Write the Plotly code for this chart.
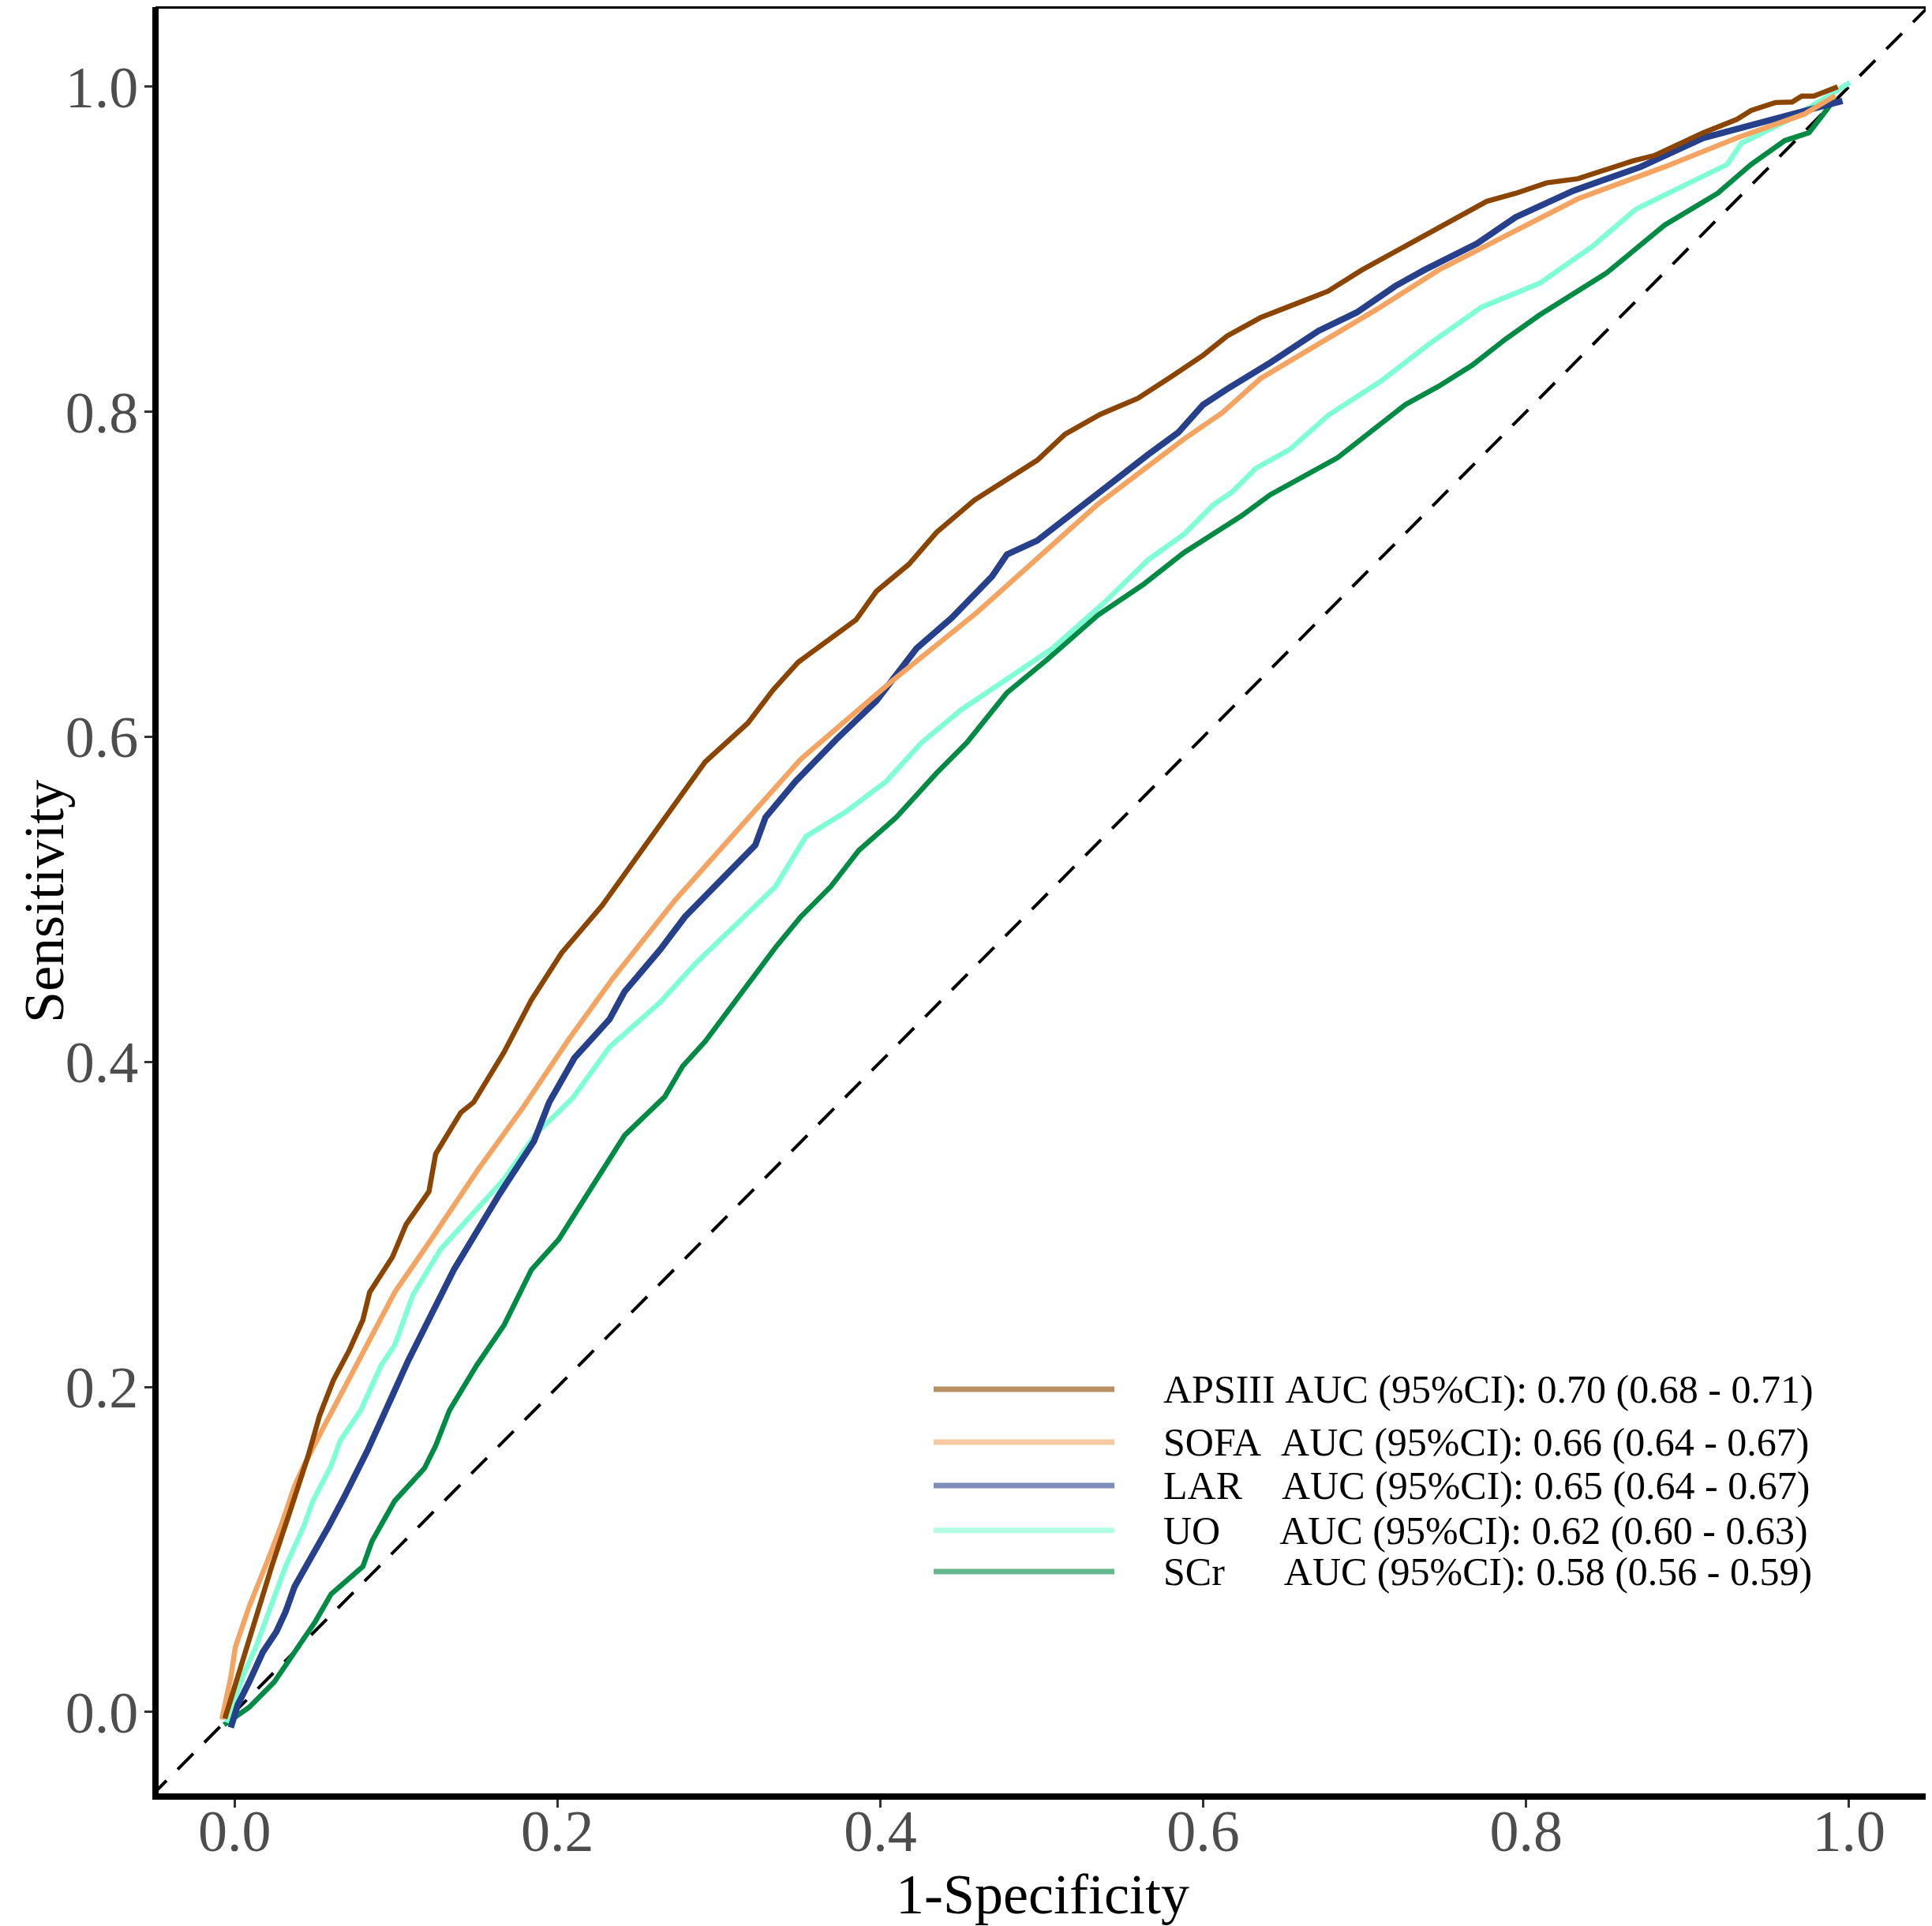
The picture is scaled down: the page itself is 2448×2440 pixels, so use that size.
import plotly.graph_objects as go

# ROC curves (x = 1-specificity, y = sensitivity)
APSIII_X = [-0.006, 0.0047, 0.0175, 0.023, 0.0344, 0.0456, 0.0527, 0.0612, 0.0711, 0.0795,
            0.0837, 0.0978, 0.1063, 0.1204, 0.1246, 0.1401, 0.1481, 0.1668, 0.1839, 0.2026,
            0.2276, 0.251, 0.2665, 0.2915, 0.318, 0.3336, 0.3491, 0.385, 0.3975, 0.4177,
            0.4349, 0.4583, 0.4972, 0.5144, 0.5362, 0.5595, 0.5798, 0.6001, 0.6148, 0.6356,
            0.6565, 0.6773, 0.6982, 0.716, 0.7369, 0.7577, 0.7756, 0.7935, 0.8128, 0.8322,
            0.8501, 0.8665, 0.8799, 0.8918, 0.9097, 0.9305, 0.9394, 0.9544, 0.9648, 0.9707,
            0.9782, 0.993]
APSIII_Y = [-0.004, 0.031, 0.071, 0.0896, 0.1236, 0.1577, 0.1825, 0.2041, 0.2227, 0.2413,
            0.2583, 0.28, 0.3001, 0.3202, 0.3435, 0.3688, 0.3752, 0.4058, 0.4382, 0.4671,
            0.4961, 0.5284, 0.5505, 0.5846, 0.6085, 0.6289, 0.6459, 0.6721, 0.6895, 0.7062,
            0.7259, 0.7457, 0.7702, 0.7862, 0.7984, 0.8083, 0.8213, 0.8349, 0.8466, 0.858,
            0.8661, 0.8742, 0.8872, 0.8969, 0.9077, 0.9197, 0.9295, 0.9344, 0.9409, 0.9434,
            0.949, 0.9545, 0.9578, 0.9636, 0.9717, 0.9799, 0.9854, 0.9903, 0.9906, 0.9942,
            0.9942, 1.0]

SOFA_X = [-0.0079, -0.0023, 0.0005, 0.009, 0.0203, 0.0287, 0.0372, 0.0429, 0.0541, 0.0711,
          0.088, 0.0992, 0.1218, 0.15, 0.1782, 0.2073, 0.2346, 0.2728, 0.3507, 0.4068,
          0.4598, 0.5346, 0.588, 0.6118, 0.6356, 0.6654, 0.7071, 0.7458, 0.7905, 0.8322,
          0.8858, 0.9305, 0.9722, 0.9915]
SOFA_Y = [-0.0045, 0.0215, 0.04, 0.0648, 0.0927, 0.1144, 0.1391, 0.1515, 0.1732, 0.2057,
          0.2382, 0.2583, 0.2908, 0.3326, 0.3713, 0.4143, 0.4518, 0.4995, 0.5863, 0.634,
          0.6765, 0.743, 0.7832, 0.7994, 0.8205, 0.8384, 0.8628, 0.8872, 0.91, 0.9311,
          0.9507, 0.9685, 0.9831, 0.9945]

LAR_X = [-0.0023, 0.002, 0.009, 0.0175, 0.0259, 0.0316, 0.0372, 0.0499, 0.0584, 0.0682,
         0.0823, 0.0964, 0.1077, 0.1218, 0.1359, 0.1528, 0.1641, 0.1855, 0.1949, 0.2105,
         0.2323, 0.2416, 0.2634, 0.279, 0.304, 0.3226, 0.3289, 0.3476, 0.3725, 0.3975,
         0.4224, 0.4442, 0.4692, 0.4785, 0.4972, 0.5284, 0.5471, 0.5658, 0.5845, 0.5999,
         0.6148, 0.6416, 0.6714, 0.6952, 0.719, 0.7369, 0.7696, 0.7935, 0.8292, 0.871,
         0.9097, 0.9513, 0.996]
LAR_Y = [-0.0095, 0.0045, 0.0184, 0.0369, 0.0494, 0.0617, 0.0772, 0.0989, 0.1144, 0.1329,
         0.1608, 0.1917, 0.2165, 0.2444, 0.2722, 0.3001, 0.3187, 0.3513, 0.3752, 0.4024,
         0.4263, 0.4433, 0.4688, 0.4893, 0.5148, 0.5335, 0.5505, 0.5727, 0.5982, 0.6221,
         0.6544, 0.6732, 0.6987, 0.7123, 0.7208, 0.7447, 0.76, 0.7736, 0.7872, 0.8043,
         0.814, 0.8303, 0.8498, 0.8612, 0.8774, 0.8872, 0.9035, 0.9197, 0.936, 0.9507,
         0.9685, 0.9799, 0.9913]

UO_X = [-0.0051, 0.0005, 0.0062, 0.0132, 0.0189, 0.0259, 0.0316, 0.0429, 0.0485, 0.0598,
        0.0654, 0.0781, 0.0908, 0.0992, 0.1049, 0.1105, 0.1275, 0.1472, 0.167, 0.1867,
        0.2092, 0.2323, 0.2634, 0.2852, 0.3102, 0.3351, 0.3538, 0.3787, 0.4037, 0.4255,
        0.4504, 0.4785, 0.5066, 0.5377, 0.5658, 0.588, 0.6059, 0.6178, 0.6327, 0.6535,
        0.6773, 0.7101, 0.7399, 0.7726, 0.8084, 0.8412, 0.8679, 0.8977, 0.9245, 0.9334,
        0.9633, 0.9901, 1.0005]
UO_Y = [-0.0064, 0.0091, 0.0246, 0.04, 0.0555, 0.0741, 0.0896, 0.1144, 0.1299, 0.1515,
        0.167, 0.1856, 0.2134, 0.2258, 0.2413, 0.2567, 0.2846, 0.3063, 0.328, 0.3558,
        0.3775, 0.4092, 0.4365, 0.4603, 0.4841, 0.508, 0.5386, 0.554, 0.5727, 0.5965,
        0.6169, 0.6357, 0.6544, 0.6817, 0.7089, 0.7246, 0.7425, 0.7506, 0.7653, 0.7767,
        0.7978, 0.8189, 0.8417, 0.8645, 0.8791, 0.9019, 0.9246, 0.9392, 0.9522, 0.9653,
        0.9799, 0.9961, 1.0026]

SCR_X = [-0.0065, 0.009, 0.0245, 0.0372, 0.0499, 0.0598, 0.0795, 0.0851, 0.0992, 0.1176,
         0.1246, 0.1331, 0.15, 0.167, 0.1839, 0.2008, 0.2228, 0.2416, 0.2665, 0.2775,
         0.2915, 0.3196, 0.3351, 0.3507, 0.3694, 0.3866, 0.4099, 0.4349, 0.4536, 0.4785,
         0.5034, 0.5346, 0.5627, 0.588, 0.6029, 0.6237, 0.6416, 0.6624, 0.6833, 0.7042,
         0.725, 0.7458, 0.7667, 0.7875, 0.8084, 0.8501, 0.8679, 0.8858, 0.9186, 0.9394,
         0.9603, 0.9752, 0.9841, 0.9915]
SCR_Y = [-0.0078, 0.0029, 0.0184, 0.0369, 0.0555, 0.0726, 0.0896, 0.1051, 0.1299, 0.15,
         0.1639, 0.1856, 0.2134, 0.2382, 0.2722, 0.2908, 0.3248, 0.3548, 0.3786, 0.3973,
         0.4126, 0.4501, 0.4705, 0.4893, 0.508, 0.5301, 0.5505, 0.5778, 0.5965, 0.6272,
         0.6476, 0.6748, 0.6936, 0.7133, 0.723, 0.736, 0.749, 0.7604, 0.7718, 0.7881,
         0.8043, 0.8157, 0.8287, 0.8449, 0.8596, 0.8856, 0.9002, 0.9149, 0.9344, 0.9522,
         0.9669, 0.9717, 0.9831, 0.9929]

MODELS = ["APSIII", "SOFA", "LAR", "UO", "SCr"]
AUC = ["0.70", "0.66", "0.65", "0.62", "0.58"]
CI_LOW = ["0.68", "0.64", "0.64", "0.60", "0.56"]
CI_HIGH = ["0.71", "0.67", "0.67", "0.63", "0.59"]
TICKS = [0.0, 0.2, 0.4, 0.6, 0.8, 1.0]
TICK_TEXT = ["0.0", "0.2", "0.4", "0.6", "0.8", "1.0"]

CURVES = {
    "APSIII": (APSIII_X, APSIII_Y),
    "SOFA": (SOFA_X, SOFA_Y),
    "LAR": (LAR_X, LAR_Y),
    "UO": (UO_X, UO_Y),
    "SCr": (SCR_X, SCR_Y),
}
COLORS = {
    "APSIII": (139, 69, 0),
    "SOFA": (244, 164, 96),
    "LAR": (39, 64, 139),
    "UO": (127, 255, 212),
    "SCr": (0, 139, 69),
}
LINE_W = {"APSIII": 6.5, "SOFA": 6.5, "LAR": 8, "UO": 6.5, "SCr": 6.5}
# name padding so the "AUC" column lines up in the legend
PAD = {"APSIII": 1, "SOFA": 2, "LAR": 4, "UO": 6, "SCr": 6}

X_RANGE = [-0.048, 1.049]
Y_RANGE = [-0.051, 1.049]
FONT = "Liberation Serif"

fig = go.Figure()

# chance line
lo = min(X_RANGE[0], Y_RANGE[0]) - 0.1
hi = max(X_RANGE[1], Y_RANGE[1]) + 0.1
fig.add_trace(go.Scatter(x=[lo, hi], y=[lo, hi], mode="lines",
                         line=dict(color="black", width=4, dash="28px,20px"),
                         showlegend=False, hoverinfo="skip"))

# later models drawn first so APSIII ends up on top
for name in reversed(MODELS):
    xs, ys = CURVES[name]
    r, g, b = COLORS[name]
    fig.add_trace(go.Scatter(x=xs, y=ys, mode="lines", name=name,
                             line=dict(color=f"rgb({r},{g},{b})", width=LINE_W[name]),
                             showlegend=False))

# hand-made legend (keys are long, lightened lines as in the original)
legend_y = [0.2269, 0.1974, 0.1731, 0.1480, 0.1249]
for i, name in enumerate(MODELS):
    r, g, b = COLORS[name]
    fig.add_shape(type="line", xref="paper", yref="paper",
                  x0=0.4385, x1=0.5406, y0=legend_y[i], y1=legend_y[i],
                  line=dict(color=f"rgba({r},{g},{b},0.6)", width=7))
    label = name + "\u00a0" * PAD[name] + f"AUC (95%CI): {AUC[i]} ({CI_LOW[i]} - {CI_HIGH[i]})"
    fig.add_annotation(text=label, xref="paper", yref="paper", x=0.5673, y=legend_y[i],
                       xanchor="left", yanchor="middle", showarrow=False,
                       font=dict(family=FONT, size=50, color="black"))

# y title as an annotation so it can sit closer to the page edge
fig.add_annotation(text="Sensitivity", xref="paper", yref="paper", x=-0.064, y=0.5,
                   xanchor="center", yanchor="middle", textangle=-90, showarrow=False,
                   font=dict(family=FONT, size=72, color="black"))

# panel border
fig.add_shape(type="rect", xref="paper", yref="paper", x0=0, x1=1, y0=0, y1=1,
              line=dict(color="black", width=4), layer="above")

axis_common = dict(
    showgrid=False, zeroline=False, showline=True, linecolor="black", linewidth=6,
    ticks="outside", ticklen=10, tickwidth=3, tickcolor="#333333",
    tickvals=TICKS, ticktext=TICK_TEXT, automargin=False,
    tickfont=dict(family=FONT, size=74, color="#4D4D4D"),
)

# the page body adds an 8px offset, so the figure is 8px smaller than the window
fig.update_layout(
    width=2440,
    height=2432,
    margin=dict(l=191, r=5, t=1, b=166),
    paper_bgcolor="white",
    plot_bgcolor="white",
    font=dict(family=FONT),
    showlegend=False,
    xaxis=dict(**axis_common, range=X_RANGE, ticklabelstandoff=-34,
               title=dict(text="1-Specificity", standoff=0,
                          font=dict(family=FONT, size=72, color="black"))),
    yaxis=dict(**axis_common, range=Y_RANGE, ticklabelstandoff=-7),
)

fig.write_html("out.html")
